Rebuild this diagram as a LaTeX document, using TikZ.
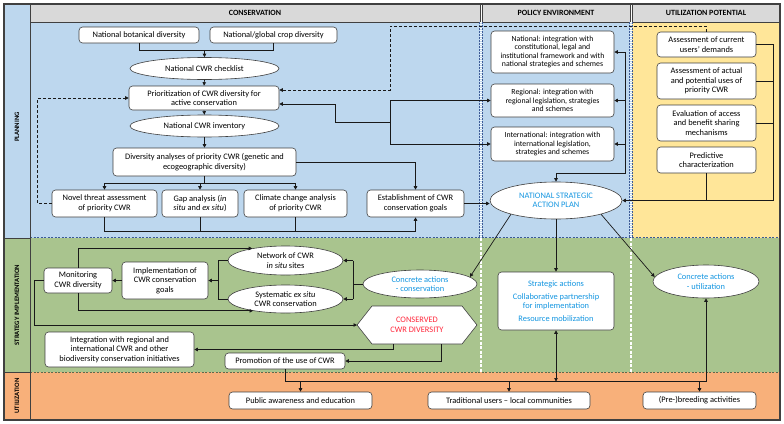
\documentclass[tikz,border=0pt]{standalone}
\usepackage{fontspec}
\setmainfont{Carlito}
\usetikzlibrary{arrows.meta,shapes.geometric,calc}
\definecolor{bgblue}{RGB}{189,215,238}
\definecolor{bggreen}{RGB}{169,196,142}
\definecolor{bgorange}{RGB}{248,176,122}
\definecolor{bgyellow}{RGB}{255,230,153}
\definecolor{hdrgray}{RGB}{217,217,217}
\definecolor{txtblue}{RGB}{20,150,225}
\definecolor{txtred}{RGB}{255,40,60}
\definecolor{edge}{RGB}{64,64,64}
\definecolor{divblue}{RGB}{60,90,150}
\begin{document}
\begin{tikzpicture}[x=1pt,y=-1pt,
 every node/.style={inner sep=1pt, align=center},
 cbox/.style={draw=edge, fill=white, rounded corners=3.5pt, line width=0.6pt, font=\fontsize{8.4}{9.5}\selectfont},
 pbox/.style={cbox, font=\fontsize{7.8}{8.2}\selectfont},
 cell/.style={ellipse, draw=edge, fill=white, line width=0.6pt, font=\fontsize{8.4}{9.5}\selectfont, inner sep=0pt},
 conn/.style={line width=0.7pt, draw=black!90},
 arr/.style={conn, -{Triangle[length=3.5pt,width=3.5pt]}},
 darr/.style={conn, {Triangle[length=3.5pt,width=3.5pt]}-{Triangle[length=3.5pt,width=3.5pt]}},
 hdr/.style={font=\fontsize{8}{9}\selectfont\bfseries},
 lbl/.style={font=\fontsize{6.7}{7.5}\selectfont\bfseries, rotate=90},
 bluetxt/.style={text=txtblue},
]
\useasboundingbox (0,0) rectangle (784,423);
% backgrounds
\fill[bgblue] (4,4) rectangle (30,238);
\fill[bggreen] (4,238) rectangle (30,372);
\fill[bgorange] (4,372) rectangle (30,420);
\fill[bgblue] (30,22) rectangle (632,238);
\fill[bgyellow] (632,22) rectangle (780,238);
\fill[bggreen] (30,238) rectangle (780,372);
\fill[bgorange] (30,372) rectangle (780,420);
% header
\draw[fill=hdrgray, draw=edge, line width=0.6pt] (30,4) rectangle (480,22);
\draw[fill=hdrgray, draw=edge, line width=0.6pt] (482,4) rectangle (630,22);
\draw[fill=hdrgray, draw=edge, line width=0.6pt] (632,4) rectangle (780,22);
\node[hdr] (hc) at (255,13) {CONSERVATION};
\node[hdr] (hp) at (556,13) {POLICY ENVIRONMENT};
\node[hdr] (hu) at (706,13) {UTILIZATION POTENTIAL};
% dividers
\foreach \xx in {481,631}{
  \draw[divblue, line width=0.4pt, dash pattern=on 2pt off 1pt] (\xx-1.6,22) -- (\xx-1.6,238);
  \draw[divblue, line width=0.4pt, dash pattern=on 2pt off 1pt] (\xx+1.6,22) -- (\xx+1.6,238);
  \draw[white, line width=1.2pt, dash pattern=on 1pt off 1pt] (\xx,22) -- (\xx,238);
  \draw[white, line width=1.3pt, dash pattern=on 3pt off 1.5pt] (\xx,238) -- (\xx,372);
}
\draw[divblue, line width=0.5pt, dash pattern=on 2pt off 1.5pt] (30,237.5) -- (780,237.5);
\draw[black!45!bggreen, line width=0.6pt, dash pattern=on 2pt off 1.5pt] (30,372) -- (780,372);
\draw[edge, line width=0.8pt] (4,238) -- (30,238) (4,372) -- (30,372) (30,4) -- (30,420);
\draw[edge, line width=1.2pt] (4,4) rectangle (780,420);
% side labels
\node[lbl] (lp) at (17,127) {PLANNING};
\node[lbl] (ls) at (17,305) {STRATEGY IMPLEMENTATION};
\node[lbl] (lu) at (17,396) {UTILIZATION};

% conservation planning
\node[cbox, minimum width=120pt, minimum height=16pt] (bot) at (139,35) {National botanical diversity};
\node[cbox, minimum width=127pt, minimum height=16pt] (crop) at (273.5,35) {National/global crop diversity};
\node[cell, minimum width=149pt, minimum height=22pt] (chk) at (204.5,68.5) {National CWR checklist};
\node[cbox, minimum width=150pt, minimum height=24pt] (prio) at (204,98) {Prioritization of CWR diversity for\\active conservation};
\node[cell, minimum width=149pt, minimum height=22pt] (inv) at (204.5,126) {National CWR inventory};
\node[cbox, minimum width=183pt, minimum height=28pt] (div) at (204.5,162) {Diversity analyses of priority CWR (genetic and\\ecogeographic diversity)};
\node[cbox, minimum width=105pt, minimum height=27pt] (nov) at (104.5,203.5) {Novel threat assessment\\of priority CWR};
\node[cbox, minimum width=76pt, minimum height=27pt] (gap) at (200,203.5) {Gap analysis (\textit{in}\\\textit{situ} and \textit{ex situ})};
\node[cbox, minimum width=103pt, minimum height=27pt] (cli) at (295.5,203.5) {Climate change analysis\\of priority CWR};
\node[cbox, minimum width=97pt, minimum height=27pt] (est) at (415.5,203.5) {Establishment of CWR\\conservation goals};

% policy
\node[pbox, minimum width=123pt, minimum height=42pt] (nat) at (552.5,52) {National: integration with\\constitutional, legal and\\institutional framework and with\\national strategies and schemes};
\node[pbox, minimum width=123pt, minimum height=33pt] (reg) at (552.5,100.5) {Regional: integration with\\regional legislation, strategies\\and schemes};
\node[pbox, minimum width=123pt, minimum height=34pt] (intl) at (552.5,144) {International: integration with\\international legislation,\\strategies and schemes};
\node[cell, minimum width=132pt, minimum height=37pt, bluetxt] (nsap) at (556,200.5) {NATIONAL STRATEGIC\\ACTION PLAN};

% utilization potential
\node[cbox, minimum width=99pt, minimum height=25pt] (au) at (706.5,44.5) {Assessment of current\\users’ demands};
\node[cbox, minimum width=99pt, minimum height=36pt] (aa) at (706.5,81) {Assessment of actual\\and potential uses of\\priority CWR};
\node[cbox, minimum width=99pt, minimum height=36pt] (ev) at (706.5,123) {Evaluation of access\\and benefit sharing\\mechanisms};
\node[cbox, minimum width=99pt, minimum height=26pt] (pc) at (706.5,160) {Predictive\\characterization};

% strategy implementation
\node[cell, minimum width=114pt, minimum height=28pt, bluetxt] (cca) at (420,284) {Concrete actions\\- conservation};
\node[cbox, minimum width=116pt, minimum height=58pt, bluetxt] (sa) at (556,301) {Strategic actions\\[3pt]Collaborative partnership\\for implementation\\[3pt]Resource mobilization};
\node[cell, minimum width=106pt, minimum height=33pt, bluetxt] (cu) at (706,281.5) {Concrete actions\\- utilization};
\node[cell, minimum width=115pt, minimum height=29pt] (net) at (285.5,260.5) {Network of CWR\\\textit{in situ} sites};
\node[cell, minimum width=115pt, minimum height=28pt] (sys) at (285.5,299) {Systematic \textit{ex situ}\\CWR conservation};
\node[cbox, minimum width=86pt, minimum height=37pt] (impl) at (165,280.5) {Implementation of\\CWR conservation\\goals};
\node[cbox, minimum width=68pt, minimum height=25pt] (mon) at (78,280.5) {Monitoring\\CWR diversity};
\draw[edge, fill=white, line width=0.6pt] (357,325) -- (372,306) -- (462,306) -- (477,325) -- (462,344) -- (372,344) -- cycle;
\coordinate (hexL) at (357,325);
\coordinate (hb1) at (393,344);
\coordinate (hb2) at (441,344);
\node[text=txtred, font=\fontsize{8.4}{9.5}\selectfont] (cons) at (417,325) {CONSERVED\\CWR DIVERSITY};
\node[cbox, minimum width=149pt, minimum height=35pt] (integ) at (119.5,349.5) {Integration with regional and\\international CWR and other\\biodiversity conservation initiatives};
\node[cbox, minimum width=120pt, minimum height=16pt] (promo) at (285,361) {Promotion of the use of CWR};

% utilization
\node[cbox, minimum width=143pt, minimum height=17pt] (pub) at (300.5,400.5) {Public awareness and education};
\node[cbox, minimum width=162pt, minimum height=17pt] (trad) at (509,400.5) {Traditional users – local communities};
\node[cbox, minimum width=113pt, minimum height=17pt] (pre) at (699.5,400.5) {(Pre-)breeding activities};

% ---------- connectors ----------
\coordinate (j1) at (204.5,50.5);
\draw[conn] (bot.south) |- (j1) -| (crop.south);
\draw[arr] (j1) -- (chk.north);
\draw[arr] (chk.south) -- (prio.north);
\draw[arr] (prio.south) -- (inv.north);
\draw[arr] (inv.south) -- (div.north);
\coordinate (j2) at (204.5,183);
\draw[conn] (div.south) -- (j2);
\draw[conn] (nov.north |- j2) -- (cli.north |- j2);
\draw[arr] (nov.north |- j2) -- (nov.north);
\draw[arr] (gap.north |- j2) -- (gap.north);
\draw[arr] (cli.north |- j2) -- (cli.north);
\draw[arr] (div.east) -| (est.north);
\coordinate (j3) at (0,231);
\draw[conn] (nov.south) -- (nov.south |- j3) -- (est.south |- j3);
\draw[conn] (gap.south) -- (gap.south |- j3);
\draw[conn] (cli.south) -- (cli.south |- j3);
\draw[arr] (est.south |- j3) -- (est.south);
\draw[arr] (est.east) -- (est.east -| nsap.west);
\draw[arr, dash pattern=on 3pt off 2pt] (nov.west) -- ++(-14,0) |- (prio.west);
\coordinate (d1) at (390,26);
\draw[arr, dash pattern=on 3pt off 2pt] (au.north) |- (d1) |- ($(prio.east)+(0,-8)$);
\coordinate (b3) at (390,122);
\draw[conn] (reg.west -| b3) -- (intl.west -| b3);
\draw[arr] (reg.west -| b3) -- (reg.west);
\draw[arr] (intl.west -| b3) -- (intl.west);
\draw[arr] (b3) -- (335,122) |- ($(prio.east)+(0,6)$);
% policy
\coordinate (pv) at (625,173);
\draw[arr] (nat.east -| pv) -- (pv) -| (nsap.north);
\draw[arr] (nat.east -| pv) -- (nat.east);
\draw[arr] (reg.east -| pv) -- (reg.east);
\draw[arr] (intl.east -| pv) -- (intl.east);
% utilization potential
\coordinate (uv) at (773,200.5);
\draw[conn] (au.east) -| (uv);
\draw[conn] (aa.east) -- (aa.east -| uv);
\draw[conn] (ev.east) -- (ev.east -| uv);
\draw[conn] (pc.south) -- (pc.south |- uv);
\draw[arr] (uv) -- (nsap.east);
% strategy
\draw[arr] (nsap.197) -- (cca.8);
\draw[arr] (nsap.south) -- (sa.north);
\draw[arr] (nsap.-17) -- (cu.175);
\coordinate (k1) at (353,0);
\draw[conn] (cca.west) -- (cca.west -| k1);
\draw[conn] (net.east -| k1) -- (sys.east -| k1);
\draw[arr] (net.east -| k1) -- (net.east);
\draw[arr] (sys.east -| k1) -- (sys.east);
\coordinate (k2) at (218,0);
\draw[conn] (net.west) -- (net.west -| k2) -- (sys.west -| k2) -- (sys.west);
\draw[arr] (impl.east -| k2) -- (impl.east);
\draw[arr] (impl.west) -- (mon.east);
\draw[arr] (mon.north) |- (net.160);
\draw[arr] (mon.south) |- (sys.200);
\draw[arr] (mon.west) -- ++(-9,0) |- (hexL);
\draw[arr] (hb1) |- (integ.east);
\draw[arr] (hb2) |- (promo.east);
% utilization
\coordinate (u0) at (0,381.5);
\draw[arr] (promo.south) |- (cu.south |- u0) -- (cu.south);
\draw[arr] (pub.north |- u0) -- (pub.north);
\draw[arr] (trad.north |- u0) -- (trad.north);
\draw[arr] (pre.north |- u0) -- (pre.north);
\draw[darr] (sa.south) -- (sa.south |- u0);
\end{tikzpicture}
\end{document}
